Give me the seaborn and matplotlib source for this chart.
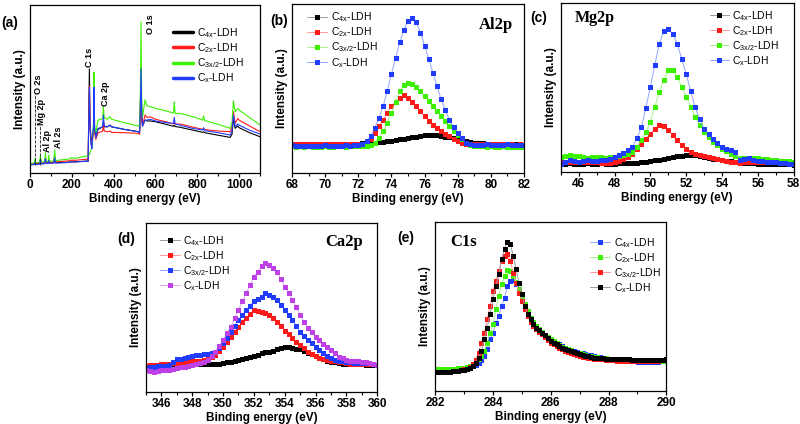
import numpy as np
import seaborn as sns
import matplotlib.pyplot as plt
from matplotlib.ticker import MultipleLocator

sns.set_theme(style='ticks')
plt.rcParams['font.family'] = ['Liberation Sans', 'DejaVu Sans']
plt.rcParams['mathtext.fontset'] = 'custom'
plt.rcParams['mathtext.rm'] = 'Liberation Sans'
plt.rcParams['mathtext.it'] = 'Liberation Sans:italic'
for k in ['axes.edgecolor', 'text.color', 'xtick.color', 'ytick.color', 'axes.labelcolor']:
    plt.rcParams[k] = 'black'

labels = ['C$_{\\mathrm{4x}}$-LDH', 'C$_{\\mathrm{2x}}$-LDH', 'C$_{\\mathrm{3x/2}}$-LDH', 'C$_{\\mathrm{x}}$-LDH']

# ---------------------------
# (a) survey spectrum
survey_x = [3, 20, 24, 28, 46, 50, 54, 70, 74, 78, 87, 90, 93, 114, 118, 122, 190, 200, 210, 270, 278,
            284, 287, 292, 296, 301, 304, 306, 309, 315, 325, 340, 348, 351, 355, 370, 383, 390, 450,
            518, 524, 528, 531, 534, 538, 550, 560, 574, 600, 650, 686, 690, 694, 718, 780, 826, 830,
            836, 900, 957, 966, 973, 981, 994, 1000, 1050, 1100]
survey_c4x = [5.2, 5.3, 6.5, 5.4, 5.5, 7.5, 5.6, 5.7, 8.5, 5.8, 6.0, 7.8, 6.0, 6.1, 9.0, 6.1, 6.5, 6.8, 6.6, 7.0, 7.0,
              62, 30, 20, 17, 24, 26, 27, 26, 22, 26, 27, 27.5, 30.5, 27.5, 27.5, 28.5, 27.5, 26,
              24.6, 24, 40, 55, 35, 28, 31.5, 31, 31, 30.5, 29, 27.8, 28.5, 27.7, 27.2, 25.5, 24.2, 24.5,
              24, 22.5, 21.2, 23, 32.5, 26.6, 28, 27, 24, 21.6]
survey_c2x = [5.6, 5.7, 6.8, 5.8, 5.9, 7.8, 6.0, 6.1, 8.5, 6.2, 6.3, 8.0, 6.4, 6.5, 9.5, 6.6, 7.3, 7.7, 7.5, 8.2, 8.2,
              52, 28, 18, 15, 22, 24, 24, 24, 20, 24, 24.5, 25, 29, 25, 24.5, 25, 24.2, 24,
              23.6, 23, 40, 58, 35, 28, 34.5, 33, 33.5, 32, 30.5, 29.2, 30, 29, 29.2, 27.3, 26, 26.3,
              25.8, 25, 24.6, 27, 36.5, 29.6, 32.5, 31.5, 28, 24.6]
survey_c32x = [5.6, 6.0, 8.5, 6.2, 6.4, 10.5, 6.5, 6.6, 12.1, 6.8, 6.9, 10.7, 7.0, 7.2, 13.7, 7.4, 8.4, 9.3, 8.6, 10.1, 10.1,
               11, 12, 14, 15, 24, 30, 60, 28, 24, 31.5, 32, 33, 39.5, 33, 32, 33.5, 32, 30,
               28, 27.5, 50, 90, 45, 33, 43.5, 40, 39.5, 38.5, 37, 35.7, 42.5, 35.5, 35.5, 33.5, 31.5, 34,
               31.2, 29, 26.6, 30, 43, 36.5, 38.5, 37.5, 33, 28.6]
survey_cx = [4.8, 5.0, 6.5, 5.1, 5.2, 7.8, 5.4, 5.5, 8.5, 5.6, 5.7, 7.5, 5.8, 5.9, 9.0, 5.9, 6.3, 6.7, 6.5, 7.1, 7.1,
             51, 28, 17, 14.5, 25, 28, 51, 26, 21, 26.5, 27, 28, 34.5, 28, 27.5, 28.5, 27.5, 26,
             24.6, 24, 40, 62, 38, 28, 31.5, 31.5, 32, 31, 30, 29.5, 33.1, 29.4, 28.4, 26.5, 25.6, 27,
             25.2, 24, 22.6, 25, 34.5, 27.6, 29.2, 28.5, 25.5, 23.2]
survey_ticks = [0, 200, 400, 600, 800, 1000]
peak_names = ['O 2s', 'Mg 2p', 'Al 2p', 'Al 2s', 'C 1s', 'Ca 2p', 'O 1s']
peak_text_x = [43, 53, 84, 137, 284, 359, 574]
peak_text_y = [47, 28.5, 12.5, 15, 63, 40, 83]
dash_x = [24, 48]
dash_top = [47, 28]

# ---------------------------
# (b) Al2p
al_x = np.arange(68, 82.001, 0.25)
al_c4x = [17.3, 17.2, 17.4, 17.1, 17.3, 17.2, 17.0, 17.2, 17.3, 17.1, 17.2, 17.3, 17.2, 17.3, 17.4, 17.3, 17.4, 17.5, 17.6, 17.7,
          17.8, 18.2, 18.6, 18.9, 19.2, 19.6, 19.9, 20.3, 20.6, 21.0, 21.4, 21.8, 22.2, 22.5, 22.6, 22.4, 22.0, 21.5, 21.0, 20.5,
          20.0, 19.5, 19.0, 18.5, 18.0, 17.7, 17.5, 17.4, 17.3, 17.2, 17.3, 17.1, 17.0, 17.1, 16.9, 16.8, 16.7]
al_c2x = [17.0, 17.1, 16.9, 17.2, 17.0, 17.3, 17.1, 17.0, 17.2, 17.1, 17.3, 17.2, 17.0, 17.2, 17.3, 17.2, 17.3, 17.4, 17.7, 19.8,
          23.6, 27.5, 31.5, 35.5, 39.5, 42.2, 44.4, 46.0, 44.4, 42.2, 39.5, 36.5, 33.5, 31.0, 28.6, 26.5,
          24.6, 23.0, 21.6, 20.0, 18.7, 17.8, 17.3, 17.1, 17.2, 17.0, 17.1, 17.3, 17.2, 17.0, 17.1, 17.2, 16.9, 17.0, 16.8, 16.9, 16.7]
al_c32x = [15.8, 15.6, 15.7, 15.5, 15.7, 15.6, 15.4, 15.6, 15.7, 15.5, 15.6, 15.8, 15.7, 15.6, 15.8, 15.7, 15.8, 15.9, 16.0, 16.8,
           18.0, 20.8, 24.6, 29.8, 35.5, 42.0, 48.4, 52.0, 53.4, 52.8, 51.0, 48.3, 45.4, 42.5, 39.5, 36.5,
           33.5, 30.5, 27.6, 25.0, 22.6, 20.2, 18.0, 16.8, 16.0, 15.8, 15.7, 15.6, 15.7, 15.5, 15.6, 15.7, 15.5, 15.6, 15.4, 15.6, 15.5]
al_cx = [16.3, 16.1, 16.0, 16.2, 15.9, 16.1, 16.0, 16.2, 16.3, 16.1, 16.2, 16.0, 16.1, 16.3, 16.2, 16.3, 16.3, 17.2, 18.7, 22.0,
         26.6, 32.5, 39.5, 48.5, 58.3, 68.0, 77.2, 84.5, 90.0, 91.5, 89.0, 83.0, 75.2, 67.5, 59.3, 51.3,
         43.5, 37.2, 31.5, 27.0, 23.6, 20.5, 18.0, 17.0, 16.7, 16.8, 16.6, 16.9, 16.7, 16.8, 16.6, 16.7, 16.9, 16.6, 16.7, 16.5, 16.6]
al_ticks = [68, 70, 72, 74, 76, 78, 80, 82]

# ---------------------------
# (c) Mg2p
mg_x = np.arange(45, 58.001, 0.25)
mg_c4x = [5.1, 5.0, 5.2, 5.1, 5.0, 5.1, 5.2, 5.0, 5.1, 5.2, 5.1, 5.0,
          5.1, 5.2, 5.3, 5.4, 5.5, 5.7, 5.9, 6.2, 6.5, 6.9, 7.3, 7.7,
          8.1, 8.8, 9.4, 9.7, 10.0, 10.1, 10.0, 9.5, 9.0, 8.5, 8.0, 7.5,
          7.1, 6.7, 6.4, 6.0, 5.7, 5.5, 5.4, 5.2, 5.1, 5.0, 4.9, 4.8, 4.7, 4.7, 4.6, 4.6, 4.5]
mg_c2x = [6.1, 6.2, 6.0, 6.1, 6.2, 6.0, 6.1, 5.9, 5.8, 5.7, 5.6, 5.6,
          6.1, 6.6, 7.5, 9.0, 11.0, 13.8, 16.9, 19.8, 22.8, 25.7, 27.7, 27.1,
          24.8, 21.8, 18.9, 16.0, 13.4, 11.8, 10.6, 10.0, 9.4, 8.7, 8.1, 7.6,
          7.1, 6.6, 6.1, 5.9, 5.7, 5.8, 5.9, 6.0, 6.1, 6.2, 6.3, 6.4, 6.5, 6.4, 6.3, 6.2, 6.1]
mg_c32x = [9.0, 9.6, 10.0, 9.8, 9.4, 9.0, 8.6, 8.8, 9.0, 8.8, 8.6, 8.7,
           9.0, 9.4, 10.0, 10.8, 12.0, 15.0, 18.9, 23.8, 29.7, 38.5, 47.3, 54.5,
           60.1, 60.1, 56.2, 50.5, 44.4, 38.5, 32.6, 27.8, 23.8, 20.5, 17.9, 15.8,
           13.9, 12.3, 11.0, 9.7, 8.6, 8.3, 8.2, 8.1, 8.1, 7.9, 7.6, 7.4, 7.1, 6.8, 6.6, 6.3, 6.1]
mg_cx = [5.1, 6.0, 7.1, 6.5, 6.1, 6.8, 7.4, 6.5, 6.7, 7.2, 7.1, 7.6,
         9.0, 10.2, 11.4, 13.0, 14.9, 20.0, 26.7, 38.0, 50.3, 63.5, 75.8, 83.7,
         84.7, 81.7, 75.8, 67.0, 58.1, 48.0, 38.5, 31.5, 25.7, 22.5, 19.8, 17.0,
         14.9, 13.8, 13.0, 12.0, 7.1, 8.0, 8.1, 7.2, 6.5, 6.8, 6.2, 6.0, 6.1, 5.6, 5.4, 5.0, 4.7]
mg_ticks = [46, 48, 50, 52, 54, 56, 58]

# ---------------------------
# (d) Ca2p
ca_x = np.arange(345, 360.001, 0.25)
ca_c4x = [15.6, 15.5, 15.7, 15.6, 15.6, 15.7, 15.8, 15.9, 16.0, 16.0, 16.1, 16.2,
          16.4, 16.3, 16.5, 16.4, 16.6, 16.5, 16.7, 16.8, 17.0, 17.6, 18.0, 18.4,
          18.9, 19.5, 19.9, 20.6, 21.3, 22.0, 22.9, 23.4, 23.9, 24.5, 25.2, 26.0,
          26.8, 26.3, 25.8, 25.5, 25.2, 24.3, 23.3, 22.3, 21.3, 20.3, 19.3, 18.6,
          18.0, 17.5, 17.0, 16.8, 16.6, 16.5, 16.5, 16.4, 16.4, 16.2, 16.1, 16.0, 16.0]
ca_c2x = [15.6, 15.8, 16.0, 16.2, 16.4, 16.6, 16.8, 17.1, 17.4, 17.7, 18.0, 18.2,
          18.3, 18.4, 18.5, 18.9, 19.3, 20.4, 21.9, 24.2, 26.8, 29.8, 32.7, 35.7,
          38.7, 41.2, 43.6, 46.0, 48.5, 48.0, 47.5, 46.5, 45.6, 43.6, 41.6, 39.0,
          36.3, 34.0, 31.8, 29.8, 27.8, 25.8, 23.9, 22.6, 21.3, 20.3, 19.3, 18.9,
          18.5, 18.2, 18.0, 17.5, 17.0, 16.8, 16.7, 16.6, 16.6, 16.5, 16.4, 16.3, 16.2]
ca_c32x = [14.0, 14.5, 14.9, 15.2, 15.4, 15.6, 16.0, 17.5, 19.3, 19.6, 19.9, 20.6,
           21.3, 21.6, 21.9, 22.2, 22.5, 23.0, 23.9, 26.0, 28.8, 32.2, 35.7, 39.2,
           42.6, 45.5, 48.5, 51.0, 53.5, 55.0, 56.4, 58.4, 57.4, 56.0, 54.4, 51.5,
           48.5, 45.5, 42.6, 39.2, 35.7, 33.2, 30.8, 28.8, 26.8, 24.8, 22.9, 21.4,
           19.9, 19.1, 18.3, 18.1, 18.0, 17.7, 17.4, 17.4, 17.4, 17.2, 17.0, 16.5, 16.0]
ca_cx = [13.0, 12.5, 12.0, 12.5, 13.0, 13.0, 13.0, 13.5, 14.0, 14.5, 15.0, 15.5,
         16.0, 16.5, 17.0, 17.9, 18.9, 21.0, 23.9, 27.3, 30.8, 34.7, 38.7, 43.6,
         48.5, 53.5, 58.4, 63.3, 68.2, 71.2, 74.2, 76.1, 75.1, 73.2, 71.2, 66.8,
         62.3, 58.3, 54.4, 50.0, 45.6, 41.6, 37.7, 35.2, 32.7, 30.5, 28.4, 26.6,
         24.9, 22.9, 20.9, 19.9, 18.9, 18.6, 18.3, 18.2, 18.0, 17.5, 17.0, 16.5, 16.0]
ca_ticks = [346, 348, 350, 352, 354, 356, 358, 360]

# ---------------------------
# (e) C1s
c1s_x = np.arange(282, 290.001, 0.1)
c1s_c4x = [11.8, 11.8, 11.9, 11.9, 12.0, 12.0, 12.1, 12.2, 12.4, 12.6,
           12.8, 13.1, 13.7, 14.8, 15.6, 16.8, 18.5, 20.7, 24.7, 30.6,
           34.5, 40.4, 44.4, 50.3, 55.2, 62.1, 65.1, 65.5, 63.1, 59.2,
           54.2, 49.3, 45.4, 42.0, 39.6, 37.5, 36.0, 34.5, 33.4, 32.0,
           30.6, 29.6, 28.6, 27.6, 26.6, 25.6, 25.0, 24.4, 23.8, 23.2,
           22.7, 22.3, 21.9, 21.5, 21.1, 20.7, 20.4, 20.0, 19.7, 19.4,
           19.1, 18.9, 18.8, 18.6, 18.5, 18.3, 18.1, 17.9, 17.7, 17.5,
           17.2, 17.2, 17.1, 17.2, 17.2, 17.2, 17.3, 17.4, 17.5, 17.6, 17.8]
c1s_c2x = [12.8, 12.8, 12.9, 12.9, 13.0, 13.0, 13.1, 13.2, 13.4, 13.6,
           13.8, 14.1, 14.8, 15.8, 17.0, 18.7, 20.9, 23.7, 28.6, 34.5,
           39.4, 48.3, 56.2, 63.1, 68.0, 71.6, 71.0, 68.0, 64.5, 60.2,
           56.2, 51.3, 47.3, 43.4, 40.8, 38.5, 36.6, 34.9, 33.2, 31.8,
           30.6, 29.4, 28.3, 27.2, 26.3, 25.4, 24.7, 24.0, 23.3, 22.7,
           22.2, 21.7, 21.3, 20.9, 20.5, 20.1, 19.9, 19.7, 19.5, 19.3,
           19.1, 19.0, 18.9, 18.8, 18.7, 18.6, 18.6, 18.5, 18.5, 18.4,
           18.3, 18.3, 18.2, 18.2, 18.1, 18.1, 18.0, 18.0, 17.9, 17.9, 17.8]
c1s_c32x = [11.2, 11.1, 11.2, 11.3, 11.3, 11.4, 11.6, 11.8, 12.1, 12.4,
            12.8, 13.3, 14.2, 15.8, 18.6, 22.7, 28.6, 34.5, 42.4, 50.3,
            59.2, 65.1, 71.0, 76.9, 79.9, 80.9, 76.9, 70.0, 64.1, 58.2,
            53.3, 48.3, 44.4, 40.8, 38.5, 36.5, 34.9, 33.5, 31.8, 30.2,
            28.6, 27.5, 26.5, 25.5, 24.6, 23.7, 23.1, 22.5, 21.9, 21.3,
            20.7, 20.4, 20.1, 19.8, 19.5, 19.1, 19.0, 18.8, 18.7, 18.5,
            18.3, 18.2, 18.1, 18.0, 17.9, 17.8, 17.8, 17.9, 17.7, 17.8,
            17.8, 17.7, 17.8, 17.9, 17.8, 17.8, 17.9, 18.0, 18.1, 18.2, 18.3]
c1s_cx = [11.2, 11.2, 11.3, 11.3, 11.4, 11.5, 11.6, 11.8, 12.0, 12.3,
          12.6, 13.0, 13.8, 14.8, 16.8, 19.7, 23.7, 30.6, 37.5, 45.4,
          54.2, 62.1, 69.0, 77.9, 84.2, 88.2, 86.8, 79.9, 72.0, 64.1,
          57.2, 50.3, 45.4, 42.4, 39.8, 37.5, 35.9, 34.5, 32.9, 31.2,
          29.6, 28.6, 27.6, 26.6, 25.6, 24.7, 24.1, 23.4, 22.8, 22.2,
          21.7, 21.3, 20.9, 20.5, 20.1, 19.7, 19.6, 19.5, 19.3, 19.2,
          19.1, 19.0, 18.9, 18.9, 18.8, 18.7, 18.9, 19.0, 18.6, 18.4,
          18.3, 18.4, 18.2, 18.4, 18.3, 18.3, 18.5, 18.4, 18.6, 18.5, 18.7]
c1s_ticks = [282, 284, 286, 288, 290]

# colours
K, R, G, B, P = '#000000', '#ff1a1a', '#3cf000', '#1f3cff', '#c040e8'
light = {K: '#9a9a9a', R: '#ff9a9a', G: '#a8f090', B: '#94a4ff', P: '#e2a6f2'}


def style(ax, xlim, ticks, minor):
    ax.set_xlim(*xlim)
    ax.set_ylim(0, 100)
    ax.set_yticks([])
    ax.set_xticks(ticks)
    ax.set_xticklabels([str(t) for t in ticks], fontweight='bold')
    ax.xaxis.set_minor_locator(MultipleLocator(minor))
    ax.tick_params(axis='x', which='major', direction='out', length=3, width=0.9, labelsize=8.5, pad=1.5)
    ax.tick_params(axis='x', which='minor', direction='out', length=1.8, width=0.8)
    ax.set_xlabel('Binding energy (eV)', fontsize=8.5, fontweight='bold', labelpad=1)
    ax.set_ylabel('Intensity (a.u.)', fontsize=8.5, fontweight='bold', labelpad=3)
    for s in ax.spines.values():
        s.set_visible(True)
        s.set_linewidth(0.9)


def spectrum(ax, x, series, colors):
    for y, lab, c in zip(series, labels, colors):
        sns.lineplot(x=x, y=y, ax=ax, color=light[c], linewidth=0.7, marker='s', markersize=3.6,
                     markerfacecolor=c, markeredgecolor=c, markeredgewidth=0, label=lab)


def legend(ax, anchor, hl):
    return ax.legend(loc='upper left', bbox_to_anchor=anchor, frameon=False, fontsize=7.5,
                     borderaxespad=0, borderpad=0, labelspacing=0.12, handlelength=hl, handletextpad=0.35)


fig = plt.figure(figsize=(8, 4.24), dpi=100)
ax_a = fig.add_axes([0.0375, 0.592, 0.2875, 0.396])
ax_b = fig.add_axes([0.365, 0.592, 0.29, 0.399])
ax_c = fig.add_axes([0.701, 0.594, 0.291, 0.399])
ax_d = fig.add_axes([0.1825, 0.0755, 0.289, 0.399])
ax_e = fig.add_axes([0.544, 0.0778, 0.289, 0.399])

# (a)
for y, lab, c in zip([survey_c4x, survey_c2x, survey_c32x, survey_cx], labels, [K, R, G, B]):
    sns.lineplot(x=survey_x, y=y, ax=ax_a, color=c, linewidth=0.8, label=lab)
ax_a.vlines(dash_x, 5, dash_top, colors='k', linestyles='--', linewidth=0.6)
for name, tx, ty in zip(peak_names, peak_text_x, peak_text_y):
    ax_a.text(tx, ty, name, rotation=90, ha='center', va='bottom', fontsize=6.5, fontweight='bold')
style(ax_a, (0, 1100), survey_ticks, 100)
leg = legend(ax_a, (0.62, 0.875), 2.0)
for h in leg.get_lines():
    h.set_linewidth(2.5)

# (b)
spectrum(ax_b, al_x, [al_c4x, al_c2x, al_c32x, al_cx], [K, R, G, B])
style(ax_b, (68, 82), al_ticks, 1)
legend(ax_b, (0.065, 0.96), 1.9)
ax_b.text(0.953, 0.876, 'Al2p', transform=ax_b.transAxes, ha='right', va='center',
          fontsize=12, fontweight='bold', family='Liberation Serif')

# (c)
spectrum(ax_c, mg_x, [mg_c4x, mg_c2x, mg_c32x, mg_cx], [K, R, G, B])
style(ax_c, (45, 58), mg_ticks, 1)
legend(ax_c, (0.64, 0.965), 1.8)
ax_c.text(0.06, 0.911, 'Mg2p', transform=ax_c.transAxes, ha='left', va='center',
          fontsize=11.5, fontweight='bold', family='Liberation Serif')

# (d)
spectrum(ax_d, ca_x, [ca_c4x, ca_c2x, ca_c32x, ca_cx], [K, R, B, P])
style(ax_d, (345, 360), ca_ticks, 1)
legend(ax_d, (0.06, 0.935), 1.9)
ax_d.text(0.939, 0.888, 'Ca2p', transform=ax_d.transAxes, ha='right', va='center',
          fontsize=12, fontweight='bold', family='Liberation Serif')

# (e)
spectrum(ax_e, c1s_x, [c1s_c4x, c1s_c2x, c1s_c32x, c1s_cx], [B, G, R, K])
style(ax_e, (282, 290), c1s_ticks, 1)
legend(ax_e, (0.671, 0.917), 1.9)
ax_e.text(0.065, 0.882, 'C1s', transform=ax_e.transAxes, ha='left', va='center',
          fontsize=12, fontweight='bold', family='Liberation Serif')

# panel letters
for lab, px, py in [('(a)', 1, 23), ('(b)', 270, 21), ('(c)', 530, 18), ('(d)', 117, 239), ('(e)', 397, 238)]:
    fig.text(px / 800, 1 - py / 424, lab, ha='left', va='center', fontsize=10, fontweight='bold')

fig.savefig('out.png', dpi=100)
